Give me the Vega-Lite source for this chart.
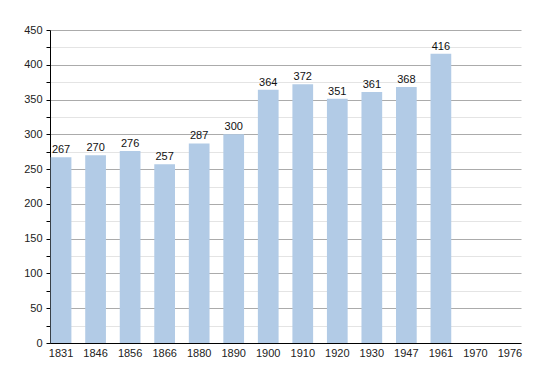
{
  "$schema": "https://vega.github.io/schema/vega-lite/v6.json",
  "width": 471,
  "height": 313,
  "autosize": "none",
  "padding": {"left": 50, "top": 30, "right": 29, "bottom": 30},
  "background": "white",
  "config": {
    "view": {"stroke": null},
    "font": "Liberation Sans",
    "axis": {"labelFont": "Liberation Sans", "labelFontSize": 11, "labelColor": "#222", "domainColor": "#000", "title": null}
  },
  "data": {
    "values": [
      {"year": "1831", "pop": 267},
      {"year": "1846", "pop": 270},
      {"year": "1856", "pop": 276},
      {"year": "1866", "pop": 257},
      {"year": "1880", "pop": 287},
      {"year": "1890", "pop": 300},
      {"year": "1900", "pop": 364},
      {"year": "1910", "pop": 372},
      {"year": "1920", "pop": 351},
      {"year": "1930", "pop": 361},
      {"year": "1947", "pop": 368},
      {"year": "1961", "pop": 416},
      {"year": "1970", "pop": null},
      {"year": "1976", "pop": null}
    ]
  },
  "encoding": {
    "x": {
      "field": "year", "type": "nominal", "sort": null,
      "scale": {"domain": ["1831","1846","1856","1866","1880","1890","1900","1910","1920","1930","1947","1961","1970","1976"], "paddingInner": 0.4, "paddingOuter": 0.02},
      "axis": {"labelAngle": 0, "ticks": false, "labelPadding": 4, "domainWidth": 1}
    },
    "y": {
      "field": "pop", "type": "quantitative",
      "scale": {"domain": [0, 450], "nice": false},
      "axis": {
        "values": [0,25,50,75,100,125,150,175,200,225,250,275,300,325,350,375,400,425,450],
        "labelExpr": "datum.value % 50 === 0 ? datum.label : ''",
        "gridColor": {"condition": {"test": "datum.value % 50 === 0", "value": "#ababab"}, "value": "#e4e4e4"},
        "tickColor": "#000",
        "tickSize": 4,
        "labelPadding": 4,
        "domainWidth": 1
      }
    }
  },
  "layer": [
    {"mark": {"type": "bar", "color": "#b2cbe6"}},
    {
      "mark": {"type": "text", "baseline": "bottom", "dy": -2, "fontSize": 11, "color": "#111"},
      "encoding": {"text": {"field": "pop", "type": "quantitative"}}
    }
  ]
}
